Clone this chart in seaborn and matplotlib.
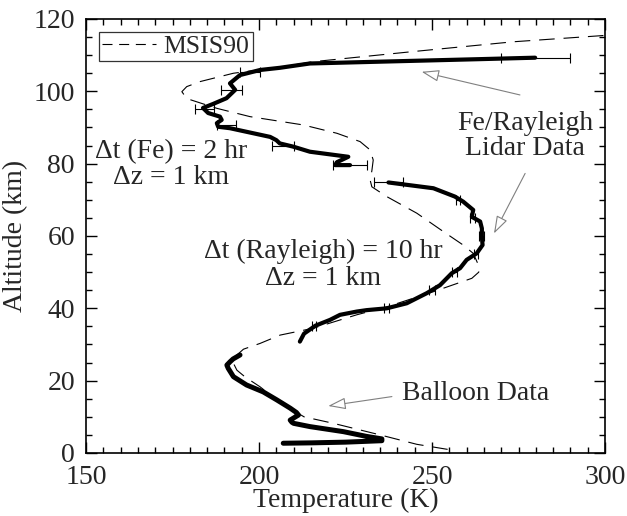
import matplotlib
matplotlib.use("Agg")
import matplotlib.pyplot as plt
from matplotlib.ticker import MultipleLocator
import seaborn as sns
import pandas as pd

# ---------------- data ----------------
msis_alt = [1.0, 2.4, 5.0, 8.2, 10.0, 14.0, 18.3, 21.0, 22.9, 25.0, 27.0, 28.7, 30.3,
            32.6, 34.5, 38.2, 40.4, 44.6, 48.3, 50.0, 52.0, 55.2, 57.5, 61.2, 66.3,
            70.9, 73.6, 75.5, 78.0, 81.0, 83.8, 86.1, 88.4, 90.7, 93.0, 95.3, 98.0,
            99.9, 101.3, 102.7, 105.0, 106.8, 108.2, 111.0, 113.7, 115.3, 115.6]
msis_temp = [254.5, 245.6, 235.0, 221.5, 213.0, 206.0, 200.3, 196.0, 193.6, 192.5, 193.5,
             195.5, 200.3, 206.1, 215.7, 228.2, 236.9, 250.4, 261.5, 263.5, 263.4, 261.9,
             259.0, 253.3, 245.6, 236.9, 232.6, 232.1, 232.6, 233.0, 232.1, 229.2, 222.5,
             212.8, 197.4, 187.8, 179.1, 177.7, 179.1, 183.0, 192.6, 207.0, 215.7, 244.6,
             273.5, 297.6, 302.0]

fe_alt = [109.3, 108.9, 108.2, 107.7, 106.5, 105.9, 104.5, 102.2, 100.4, 98.1, 96.5,
          95.4, 94.0, 93.0, 92.1, 91.2, 90.2, 89.8, 87.4, 86.5, 85.6, 84.7, 83.3, 81.9,
          80.4, 79.6, 79.6]
fe_temp = [279.8, 263.9, 235.0, 214.7, 206.0, 200.3, 194.5, 191.6, 193.1, 190.6, 186.7,
           183.8, 185.3, 188.7, 189.2, 187.8, 188.2, 191.6, 203.2, 205.0, 206.0, 209.9,
           214.7, 225.8, 222.5, 222.0, 226.3]

ray_alt = [74.8, 73.2, 70.9, 69.5, 67.2, 65.3, 64.0, 62.1, 59.8, 57.5, 55.2, 53.4, 51.1,
           49.7, 46.4, 44.2, 41.4, 40.0, 39.5, 39.1, 38.2, 36.8, 35.2, 33.0, 30.8]
ray_temp = [237.4, 250.4, 256.6, 259.0, 261.9, 261.5, 263.9, 264.4, 264.4, 264.6, 262.9,
            260.0, 258.1, 255.7, 252.3, 248.5, 242.7, 236.9, 231.1, 228.2, 223.4, 220.5,
            216.3, 213.0, 211.8]

bal_alt = [27.1, 26.0, 25.2, 24.3, 23.4, 21.1, 18.8, 16.9, 14.7, 12.4, 11.2, 10.5, 9.1,
           8.5, 8.2, 7.3, 5.9, 4.6, 3.9, 3.4, 3.0, 2.8, 2.7]
bal_temp = [194.5, 192.5, 191.6, 190.7, 191.1, 192.6, 196.4, 201.2, 205.1, 209.0, 210.8,
            211.4, 209.0, 209.5, 210.0, 214.7, 224.4, 231.0, 235.5, 235.5, 225.0, 215.0,
            207.0]

fe_err_alt = [109.3, 105.4, 100.4, 95.1, 90.7, 85.0, 79.6]
fe_err_temp = [280.0, 197.4, 192.0, 184.2, 190.5, 207.0, 226.3]
fe_err = [10.0, 3.0, 3.0, 2.7, 2.7, 3.2, 4.8]

ray_err_alt = [74.8, 70.0, 65.0, 60.0, 55.0, 50.0, 45.0, 40.0, 35.0]
ray_err_temp = [237.4, 257.5, 261.7, 264.4, 262.7, 256.5, 250.0, 236.9, 216.0]
ray_err = [4.3, 0.7, 0.6, 0.7, 0.5, 0.6, 0.8, 0.7, 0.6]

x_ticks = [150, 200, 250, 300]
y_ticks = [0, 20, 40, 60, 80, 100, 120]

# ---------------- figure ----------------
sns.set_theme(style="ticks")
plt.rcParams["font.family"] = ["Liberation Serif", "DejaVu Serif"]

fig = plt.figure(figsize=(6.27, 5.16), dpi=100)
ax = fig.add_axes([0.1372, 0.1221, 0.8278, 0.8411])

df_msis = pd.DataFrame({"T": msis_temp, "z": msis_alt})
df_fe = pd.DataFrame({"T": fe_temp, "z": fe_alt})
df_ray = pd.DataFrame({"T": ray_temp, "z": ray_alt})
df_bal = pd.DataFrame({"T": bal_temp, "z": bal_alt})

sns.lineplot(data=df_msis, x="T", y="z", sort=False, estimator=None, ax=ax,
             color="black", lw=0.8, label="MSIS90")
ax.lines[-1].set_dashes([14, 8])
sns.lineplot(data=df_fe, x="T", y="z", sort=False, estimator=None, ax=ax,
             color="black", lw=3.0, legend=False)
sns.lineplot(data=df_ray, x="T", y="z", sort=False, estimator=None, ax=ax,
             color="black", lw=3.0, legend=False)
sns.lineplot(data=df_bal, x="T", y="z", sort=False, estimator=None, ax=ax,
             color="black", lw=3.6, legend=False)

ax.errorbar(fe_err_temp, fe_err_alt, xerr=fe_err, fmt="none", ecolor="black",
            elinewidth=0.8, capsize=3.5, capthick=0.8)
ax.errorbar(ray_err_temp, ray_err_alt, xerr=ray_err, fmt="none", ecolor="black",
            elinewidth=0.8, capsize=3.5, capthick=0.8)

ax.set_xlim(150, 300)
ax.set_ylim(0, 120)
ax.set_xticks(x_ticks)
ax.set_yticks(y_ticks)
ax.xaxis.set_minor_locator(MultipleLocator(5))
ax.yaxis.set_minor_locator(MultipleLocator(5))
fs = 20
ax.tick_params(which="both", direction="in", top=True, right=True, color="black",
               labelsize=fs, width=1.0)
ax.tick_params(which="major", length=8)
ax.tick_params(axis="x", which="major", pad=9)
ax.tick_params(axis="y", which="major", pad=8)
ax.tick_params(which="minor", length=4.5)
for s in ax.spines.values():
    s.set_color("black")
    s.set_linewidth(1.2)

ax.set_xlabel("Temperature (K)", fontsize=fs, labelpad=-2)
ax.set_ylabel("Altitude (km)", fontsize=fs, labelpad=4)

leg = ax.legend(loc="upper left", fontsize=18.5, frameon=True, fancybox=False,
                handlelength=2.1, handletextpad=0.3, borderpad=0.12,
                borderaxespad=0.5)
leg.get_frame().set_edgecolor("black")
leg.get_frame().set_linewidth(0.9)
leg.get_lines()[0].set_dashes([9, 6])

ax.text(174.7, 83.2, "Δt (Fe) = 2 hr", ha="center", va="center", fontsize=fs)
ax.text(174.7, 76.3, "Δz = 1 km", ha="center", va="center", fontsize=fs)
ax.text(218.6, 55.7, "Δt (Rayleigh) = 10 hr", ha="center", va="center", fontsize=fs)
ax.text(218.6, 48.3, "Δz = 1 km", ha="center", va="center", fontsize=fs)
ax.text(276.9, 91.1, "Fe/Rayleigh", ha="center", va="center", fontsize=fs)
ax.text(276.9, 84.2, "Lidar Data", ha="center", va="center", fontsize=fs)
ax.text(262.6, 16.5, "Balloon Data", ha="center", va="center", fontsize=fs)

aprops = dict(arrowstyle="-|>,head_length=0.9,head_width=0.3", color="gray",
              lw=0.8, fc="white", shrinkA=0, shrinkB=0)
ax.annotate("", xy=(247.0, 105.4), xytext=(275.4, 99.0), arrowprops=aprops)
ax.annotate("", xy=(267.9, 60.7), xytext=(276.9, 77.3), arrowprops=aprops)
ax.annotate("", xy=(220.0, 13.0), xytext=(238.4, 15.6), arrowprops=aprops)

fig.savefig("out.png", dpi=100)
